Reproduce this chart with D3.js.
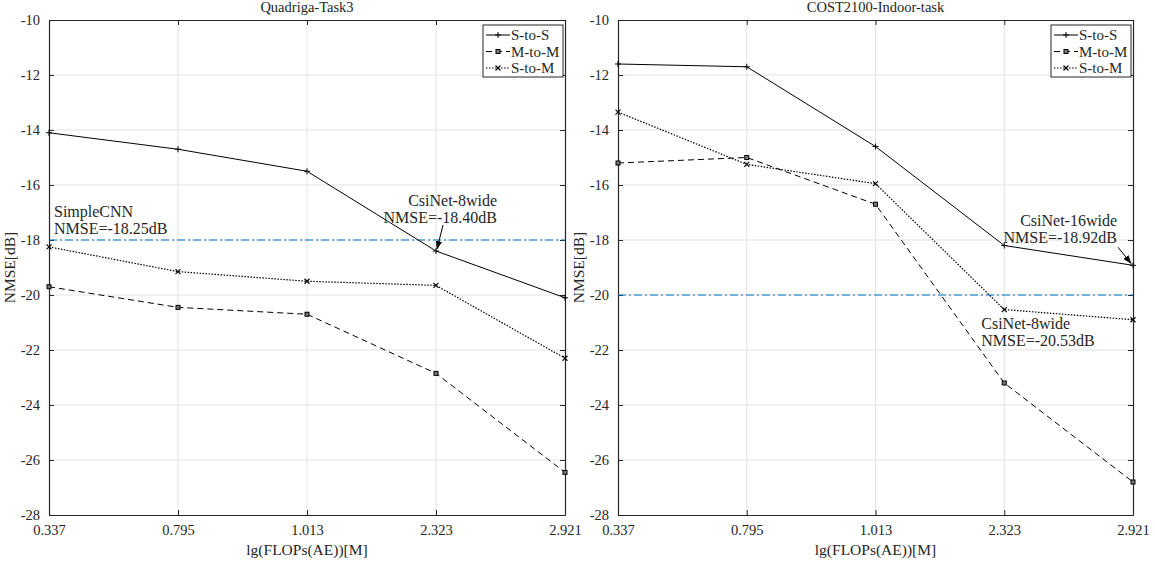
<!DOCTYPE html>
<html>
<head>
<meta charset="utf-8">
<script src="https://cdn.jsdelivr.net/npm/d3@7"></script>
<style>
  body { margin: 0; background: #fff; }
</style>
</head>
<body>
<div id="chart"></div>
<script>
// x categories (lg FLOPs) and y ticks
const xLabels = ["0.337", "0.795", "1.013", "2.323", "2.921"];
const yTicks = [-28, -26, -24, -22, -20, -18, -16, -14, -12, -10];
const seriesNames = ["S-to-S", "M-to-M", "S-to-M"];

// Quadriga-Task3
const quadSToS = [-14.1, -14.7, -15.5, -18.4, -20.1];
const quadMToM = [-19.7, -20.45, -20.7, -22.85, -26.45];
const quadSToM = [-18.25, -19.15, -19.5, -19.65, -22.3];
const quadRef = -18;

// COST2100-Indoor-task
const costSToS = [-11.6, -11.7, -14.6, -18.2, -18.92];
const costMToM = [-15.2, -15.0, -16.7, -23.2, -26.8];
const costSToM = [-13.35, -15.25, -15.95, -20.53, -20.9];
const costRef = -20;

const FONT = "'Liberation Serif', 'Times New Roman', Times, 'DejaVu Serif', serif";
const width = 1155, height = 563;
const svg = d3.select("#chart").append("svg")
    .attr("width", width)
    .attr("height", height)
    .attr("font-family", FONT);

const defs = svg.append("defs");
defs.append("marker")
    .attr("id", "arrow")
    .attr("viewBox", "0 0 10 10")
    .attr("refX", 9).attr("refY", 5)
    .attr("markerWidth", 9).attr("markerHeight", 9)
    .attr("orient", "auto-start-reverse")
    .append("path")
    .attr("d", "M0,1.5L10,5L0,8.5z")
    .attr("fill", "#000");

const styles = [
    { dash: null, marker: "plus" },
    { dash: "6,4", marker: "square" },
    { dash: "1.5,1.5", marker: "cross" }
];

function drawMarker(sel, type) {
    if (type === "plus") {
        sel.append("path").attr("d", "M-3,0H3M0,-3V3")
            .attr("stroke", "#000").attr("stroke-width", 1).attr("fill", "none");
    } else if (type === "square") {
        sel.append("rect").attr("x", -2).attr("y", -2).attr("width", 4).attr("height", 4)
            .attr("stroke", "#000").attr("stroke-width", 1).attr("fill", "#777");
    } else {
        sel.append("path").attr("d", "M-2.5,-2.5L2.5,2.5M-2.5,2.5L2.5,-2.5")
            .attr("stroke", "#000").attr("stroke-width", 1.1).attr("fill", "none");
    }
}

function txt(sel, size) {
    return sel.style("font-family", FONT).style("font-size", size + "px").attr("fill", "#262626");
}

function drawPanel(left, right, title, data, ref, notes) {
    const top = 20, bottom = 515;
    const w = right - left, h = bottom - top;
    const g = svg.append("g").attr("transform", "translate(" + left + "," + top + ")");

    const x = d3.scalePoint().domain(xLabels).range([0, w]);
    const y = d3.scaleLinear().domain([-28, -10]).range([h, 0]);

    // grid
    g.append("g").selectAll("line").data(xLabels.slice(1, -1)).enter().append("line")
        .attr("x1", d => x(d)).attr("x2", d => x(d))
        .attr("y1", 0).attr("y2", h)
        .attr("stroke", "#e3e3e3").attr("stroke-width", 1);
    g.append("g").selectAll("line").data(yTicks.slice(1, -1)).enter().append("line")
        .attr("x1", 0).attr("x2", w)
        .attr("y1", d => y(d)).attr("y2", d => y(d))
        .attr("stroke", "#e3e3e3").attr("stroke-width", 1);

    // axes
    const ax = g.append("g").attr("transform", "translate(0," + h + ")")
        .call(d3.axisBottom(x).tickSizeInner(-5).tickSizeOuter(0).tickPadding(10));
    const ay = g.append("g")
        .call(d3.axisLeft(y).tickValues(yTicks).tickSizeInner(-5).tickSizeOuter(0).tickPadding(9)
            .tickFormat(d => String(d)));
    g.append("g").attr("transform", "translate(" + w + ",0)")
        .call(d3.axisRight(y).tickValues(yTicks).tickSizeInner(-5).tickSizeOuter(0).tickFormat(""));
    g.append("g")
        .call(d3.axisTop(x).tickSizeInner(-5).tickSizeOuter(0).tickFormat(""));
    g.selectAll(".domain").attr("stroke", "#262626").attr("stroke-width", 1.2);
    g.selectAll(".tick line").attr("stroke", "#262626");
    txt(ax.selectAll("text"), 14.5);
    txt(ay.selectAll("text"), 14.5);

    // titles / labels
    txt(g.append("text"), 14.5).attr("x", w / 2).attr("y", -8)
        .attr("text-anchor", "middle").text(title);
    txt(g.append("text"), 15.5).attr("x", w / 2).attr("y", h + 40)
        .attr("text-anchor", "middle").text("lg(FLOPs(AE))[M]");
    txt(g.append("text"), 15.5)
        .attr("transform", "translate(-34," + (h / 2) + ") rotate(-90)")
        .attr("text-anchor", "middle").text("NMSE[dB]");

    // reference line
    g.append("line")
        .attr("x1", 0).attr("x2", w)
        .attr("y1", y(ref)).attr("y2", y(ref))
        .attr("stroke", "#0072BD").attr("stroke-width", 1)
        .attr("stroke-dasharray", "8,3,2,3");

    // series
    const line = d3.line().x((d, i) => x(xLabels[i])).y(d => y(d));
    data.forEach((vals, k) => {
        g.append("path").datum(vals)
            .attr("d", line)
            .attr("fill", "none")
            .attr("stroke", "#000")
            .attr("stroke-width", k === 2 ? 1.2 : 1)
            .attr("stroke-dasharray", styles[k].dash);
        vals.forEach((v, i) => {
            const m = g.append("g").attr("transform", "translate(" + x(xLabels[i]) + "," + y(v) + ")");
            drawMarker(m, styles[k].marker);
        });
    });

    // annotations
    notes.forEach(n => {
        const px = x(xLabels[n.i]), py = y(data[n.s][n.i]);
        const t = txt(g.append("text"), 16).attr("text-anchor", n.anchor);
        t.append("tspan").attr("x", px + n.tx).attr("y", py + n.ty).text(n.lines[0]);
        t.append("tspan").attr("x", px + n.tx).attr("y", py + n.ty + 17).text(n.lines[1]);
        if (n.arrow) {
            g.append("line")
                .attr("x1", px + n.arrow[0]).attr("y1", py + n.arrow[1])
                .attr("x2", px + n.arrow[2]).attr("y2", py + n.arrow[3])
                .attr("stroke", "#000").attr("stroke-width", 1)
                .attr("marker-end", "url(#arrow)");
        }
    });

    // legend
    const lw = 80, lh = 52;
    const lg = g.append("g").attr("transform", "translate(" + (w - lw - 2) + ",5)");
    lg.append("rect").attr("width", lw).attr("height", lh)
        .attr("fill", "#fff").attr("stroke", "#262626").attr("stroke-width", 1);
    seriesNames.forEach((name, k) => {
        const row = lg.append("g").attr("transform", "translate(0," + (10 + k * 16.5) + ")");
        row.append("line").attr("x1", 3).attr("x2", 27).attr("y1", 0).attr("y2", 0)
            .attr("stroke", "#000").attr("stroke-width", 1)
            .attr("stroke-dasharray", styles[k].dash);
        drawMarker(row.append("g").attr("transform", "translate(15,0)"), styles[k].marker);
        txt(row.append("text"), 15).attr("x", 28).attr("y", 5).text(name);
    });
}

drawPanel(49, 565, "Quadriga-Task3", [quadSToS, quadMToM, quadSToM], quadRef, [
    { s: 2, i: 0, lines: ["SimpleCNN", "NMSE=-18.25dB"], anchor: "start", tx: 5, ty: -30 },
    { s: 0, i: 3, lines: ["CsiNet-8wide", "NMSE=-18.40dB"], anchor: "end", tx: 61, ty: -45,
      arrow: [7, -26, 1, -2] }
]);
drawPanel(618, 1133, "COST2100-Indoor-task", [costSToS, costMToM, costSToM], costRef, [
    { s: 0, i: 4, lines: ["CsiNet-16wide", "NMSE=-18.92dB"], anchor: "end", tx: -16, ty: -39,
      arrow: [-15, -18, -2, -2] },
    { s: 2, i: 3, lines: ["CsiNet-8wide", "NMSE=-20.53dB"], anchor: "start", tx: -23, ty: 19 }
]);
</script>
</body>
</html>
